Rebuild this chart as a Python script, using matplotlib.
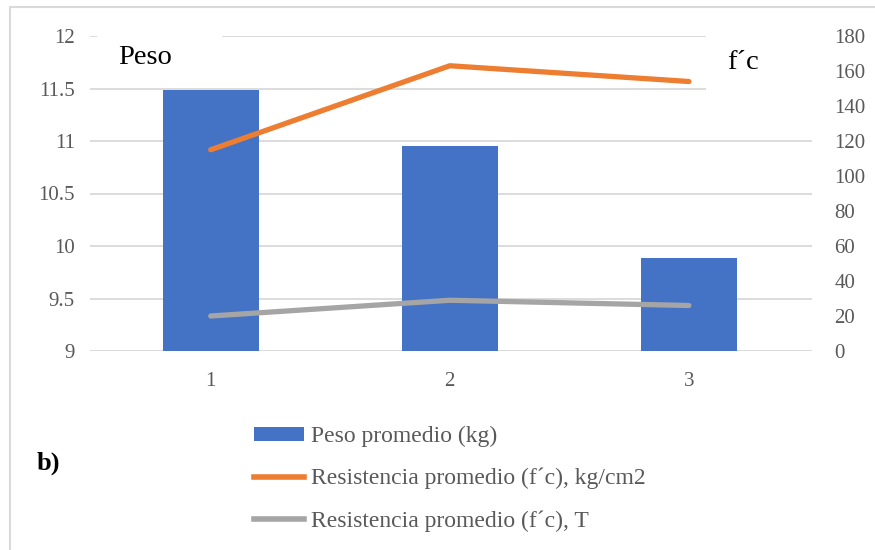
import matplotlib.pyplot as plt
from matplotlib.lines import Line2D
from matplotlib.patches import Patch, Rectangle

plt.rcParams['font.family'] = ['Liberation Serif', 'DejaVu Serif']

categories = ["1", "2", "3"]
peso = [11.49, 10.95, 9.89]
resist_kgcm2 = [115, 163, 154]
resist_t = [20, 29, 26]

left_ticks = [9, 9.5, 10, 10.5, 11, 11.5, 12]
right_ticks = [0, 20, 40, 60, 80, 100, 120, 140, 160, 180]

BLUE = "#4472C4"
ORANGE = "#ED7D31"
GRAY = "#A5A5A5"
TICK = "#595959"
W, H = 875, 550


def main():
    fig = plt.figure(figsize=(W / 100, H / 100), dpi=100)
    ax = fig.add_axes([90 / W, 1 - 351 / H, (812 - 90) / W, (351 - 36) / H])
    ax2 = ax.twinx()

    x = list(range(len(categories)))
    ax.bar(x, [p - 9 for p in peso], bottom=9, width=0.4, color=BLUE, zorder=2)
    ax.set_ylim(9, 12)
    ax.set_xlim(-0.505, 2.515)
    ax.set_yticks(left_ticks)
    ax.set_yticklabels([f"{t:g}" for t in left_ticks])
    ax.set_xticks(x)
    ax.set_xticklabels(categories)
    ax.set_axisbelow(True)
    ax.grid(axis="y", color="#D9D9D9", linewidth=1.3)
    ax.tick_params(length=0, labelsize=15, colors=TICK)
    ax.tick_params(axis="y", pad=11)
    ax.tick_params(axis="x", pad=15)

    ax2.plot(x, resist_kgcm2, color=ORANGE, lw=3.8, solid_capstyle="round")
    ax2.plot(x, resist_t, color=GRAY, lw=3.8, solid_capstyle="round")
    ax2.set_ylim(0, 180)
    ax2.set_yticks(right_ticks)
    ax2.tick_params(length=0, labelsize=15, colors=TICK, pad=16)

    for a in (ax, ax2):
        for s in a.spines.values():
            s.set_visible(False)

    # white label boxes over the gridlines
    for (x0, y0, x1, y1) in [(97, 26, 222, 80), (706, 26, 830, 96)]:
        ax.add_patch(Rectangle((x0 / W, 1 - y1 / H), (x1 - x0) / W, (y1 - y0) / H,
                               transform=fig.transFigure, facecolor="white",
                               edgecolor="none", zorder=1, clip_on=False))
    fig.text(118 / W, 1 - 57 / H, "Peso", fontsize=20.5, color="black", va="center")
    fig.text(727 / W, 1 - 62 / H, "f´c", fontsize=20.5, color="black", va="center")
    fig.text(37 / W, 1 - 463 / H, "b)", fontsize=19, fontweight="bold", va="center")

    # outer frame
    fig.patches.append(Rectangle((10 / W, -0.1), 1.1, 1 - 7 / H + 0.1,
                                 transform=fig.transFigure, fill=False,
                                 edgecolor="#D9D9D9", lw=1.5))

    handles = [Patch(facecolor=BLUE, edgecolor="none"),
               Line2D([], [], color=ORANGE, lw=4),
               Line2D([], [], color=GRAY, lw=4)]
    labels = ["Peso promedio (kg)", "Resistencia promedio (f´c), kg/cm2",
              "Resistencia promedio (f´c), T"]
    leg = fig.legend(handles, labels, loc="upper left",
                     bbox_to_anchor=(254 / W, 1 - 426 / H), frameon=False,
                     fontsize=17, handlelength=2.1, handleheight=0.5,
                     handletextpad=0.3, labelspacing=0.88, borderpad=0,
                     borderaxespad=0)
    for t in leg.get_texts():
        t.set_color(TICK)

    fig.savefig("out.png", dpi=100)


if __name__ == "__main__":
    main()
